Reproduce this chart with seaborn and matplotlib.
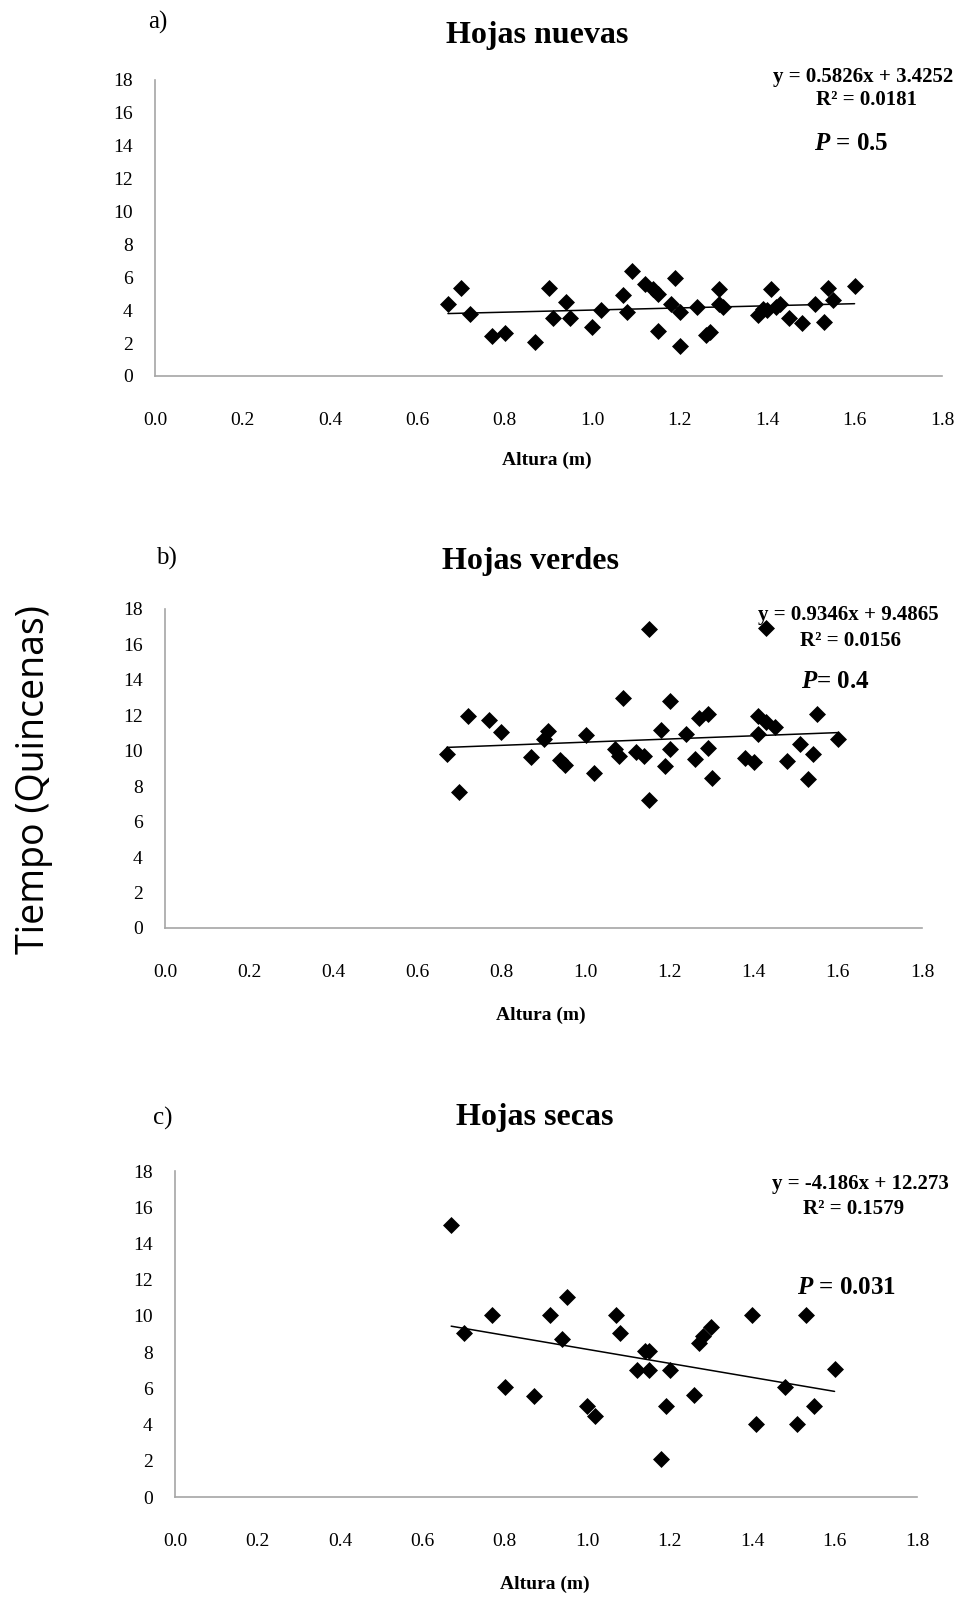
import numpy as np
import pandas as pd
import matplotlib
matplotlib.use("Agg")
import matplotlib.pyplot as plt
import seaborn as sns

# Datos (altura en m, tiempo en quincenas)
altura_a = [0.67, 0.70, 0.72, 0.77, 0.80, 0.87, 0.90, 0.91, 0.94, 0.95, 1.00, 1.02,
            1.07, 1.08, 1.09, 1.12, 1.14, 1.15, 1.15, 1.19, 1.18, 1.20, 1.20, 1.24,
            1.26, 1.27, 1.29, 1.29, 1.30, 1.41, 1.38, 1.40, 1.43, 1.45, 1.48, 1.51,
            1.53, 1.54, 1.55, 1.60, 1.42, 1.39]
tiempo_a = [4.4, 5.35, 3.75, 2.45, 2.6, 2.05, 5.35, 3.5, 4.5, 3.55, 3.0, 4.0,
            4.9, 3.9, 6.4, 5.6, 5.3, 5.0, 2.75, 5.95, 4.4, 3.9, 1.85, 4.2,
            2.5, 2.7, 5.3, 4.4, 4.2, 5.3, 3.7, 4.0, 4.4, 3.5, 3.25, 4.4,
            3.3, 5.35, 4.6, 5.45, 4.2, 4.1]

altura_b = [0.67, 0.70, 0.72, 0.77, 0.80, 0.87, 0.90, 0.91, 0.94, 0.95, 1.00, 1.02,
            1.09, 1.07, 1.08, 1.12, 1.14, 1.15, 1.15, 1.18, 1.20, 1.20, 1.19, 1.24,
            1.26, 1.27, 1.29, 1.29, 1.30, 1.38, 1.40, 1.41, 1.41, 1.43, 1.45, 1.43,
            1.48, 1.51, 1.53, 1.54, 1.55, 1.60]
tiempo_b = [9.8, 7.7, 11.95, 11.75, 11.05, 9.65, 10.65, 11.1, 9.5, 9.2, 10.9, 8.75,
            12.95, 10.1, 9.7, 9.95, 9.7, 16.85, 7.2, 11.2, 12.8, 10.1, 9.15, 10.95,
            9.55, 11.85, 12.05, 10.15, 8.45, 9.6, 9.35, 10.95, 11.95, 11.65, 11.35, 16.95,
            9.45, 10.4, 8.4, 9.8, 12.05, 10.65]

altura_c = [0.67, 0.70, 0.77, 0.80, 0.87, 0.91, 0.94, 0.95, 1.00, 1.02, 1.07, 1.08,
            1.12, 1.14, 1.15, 1.15, 1.20, 1.19, 1.18, 1.26, 1.27, 1.28, 1.30, 1.40,
            1.41, 1.48, 1.51, 1.53, 1.55, 1.60]
tiempo_c = [15.0, 9.05, 10.05, 6.05, 5.55, 10.05, 8.7, 11.05, 5.05, 4.5, 10.05, 9.05,
            7.0, 8.05, 8.05, 7.0, 7.0, 5.05, 2.1, 5.65, 8.5, 8.9, 9.4, 10.05,
            4.05, 6.05, 4.05, 10.05, 5.05, 7.05]

paneles = ["a)", "b)", "c)"]
titulos = ["Hojas nuevas", "Hojas verdes", "Hojas secas"]
ecuaciones = ["y = 0.5826x + 3.4252", "y = 0.9346x + 9.4865", "y = -4.186x + 12.273"]
r2 = ["R\u00b2 = 0.0181", "R\u00b2 = 0.0156", "R\u00b2 = 0.1579"]
valores_p = ["$P$ = 0.5", "$P$= 0.4", "$P$ = 0.031"]
x_ticks = [0.0, 0.2, 0.4, 0.6, 0.8, 1.0, 1.2, 1.4, 1.6, 1.8]
y_ticks = [0, 2, 4, 6, 8, 10, 12, 14, 16, 18]

sns.set_style("white")
plt.rcParams["font.family"] = ["Liberation Serif", "DejaVu Serif"]
plt.rcParams["mathtext.fontset"] = "custom"
plt.rcParams["mathtext.it"] = "Liberation Serif:italic:bold"
plt.rcParams["mathtext.rm"] = "Liberation Serif:bold"
plt.rcParams["text.color"] = "black"
plt.rcParams["xtick.color"] = "black"
plt.rcParams["ytick.color"] = "black"

W, H = 974, 1598
fig = plt.figure(figsize=(W / 100, H / 100), dpi=100)

def fx(px):
    return px / W

def fy(py):
    return 1 - py / H

# posiciones de los ejes en pixeles: izquierda, arriba, derecha, abajo
cajas = [(155, 80, 942, 376), (165, 609, 922, 928), (175, 1171, 917, 1497)]
# posiciones de textos
pos_letra = [(158, 22), (166, 558), (163, 1118)]
pos_titulo = [(537, 36), (531, 562), (535, 1118)]
pos_ec = [(863, 77), (848, 615), (860, 1184)]
pos_r2 = [(866, 100), (851, 641), (854, 1209)]
pos_p = [(851, 143), (835, 681), (847, 1287)]
pos_xlab = [(547, 460), (541, 1015), (545, 1584)]

datos = [(altura_a, tiempo_a), (altura_b, tiempo_b), (altura_c, tiempo_c)]

for i, (xs, ys) in enumerate(datos):
    l, t, r, b = cajas[i]
    ax = fig.add_axes([fx(l), fy(b), fx(r - l), (b - t) / H])
    df = pd.DataFrame({"Altura": xs, "Tiempo": ys})
    sns.scatterplot(data=df, x="Altura", y="Tiempo", marker="D", s=75,
                    color="black", edgecolor="black", linewidth=0, ax=ax)
    sns.regplot(data=df, x="Altura", y="Tiempo", scatter=False, ci=None,
                truncate=True, color="black", line_kws={"linewidth": 1.1}, ax=ax)
    ax.set_xlim(0, 1.8)
    ax.set_ylim(0, 18)
    ax.set_xticks(x_ticks)
    ax.set_xticklabels([f"{v:.1f}" for v in x_ticks])
    ax.set_yticks(y_ticks)
    ax.set_xlabel("")
    ax.set_ylabel("")
    ax.tick_params(axis="both", length=0, labelsize=14)
    ax.tick_params(axis="x", pad=26)
    ax.tick_params(axis="y", pad=16)
    for s in ["top", "right"]:
        ax.spines[s].set_visible(False)
    for s in ["left", "bottom"]:
        ax.spines[s].set_color("#a6a6a6")
        ax.spines[s].set_linewidth(1.2)

    fig.text(fx(pos_letra[i][0]), fy(pos_letra[i][1]), paneles[i], fontsize=18,
             ha="center", va="center")
    fig.text(fx(pos_titulo[i][0]), fy(pos_titulo[i][1]), titulos[i], fontsize=23,
             fontweight="bold", ha="center", va="center")
    fig.text(fx(pos_ec[i][0]), fy(pos_ec[i][1]), ecuaciones[i], fontsize=15,
             fontweight="bold", ha="center", va="center")
    fig.text(fx(pos_r2[i][0]), fy(pos_r2[i][1]), r2[i], fontsize=15,
             fontweight="bold", ha="center", va="center")
    fig.text(fx(pos_p[i][0]), fy(pos_p[i][1]), valores_p[i], fontsize=18,
             fontweight="bold", ha="center", va="center")
    fig.text(fx(pos_xlab[i][0]), fy(pos_xlab[i][1]), "Altura (m)", fontsize=14,
             fontweight="bold", ha="center", va="center")

fig.text(fx(34), fy(780), "Tiempo (Quincenas)", fontsize=27, rotation=90,
         ha="center", va="center", family=["Open Sans", "DejaVu Sans"])

fig.savefig("out.png", dpi=100)
